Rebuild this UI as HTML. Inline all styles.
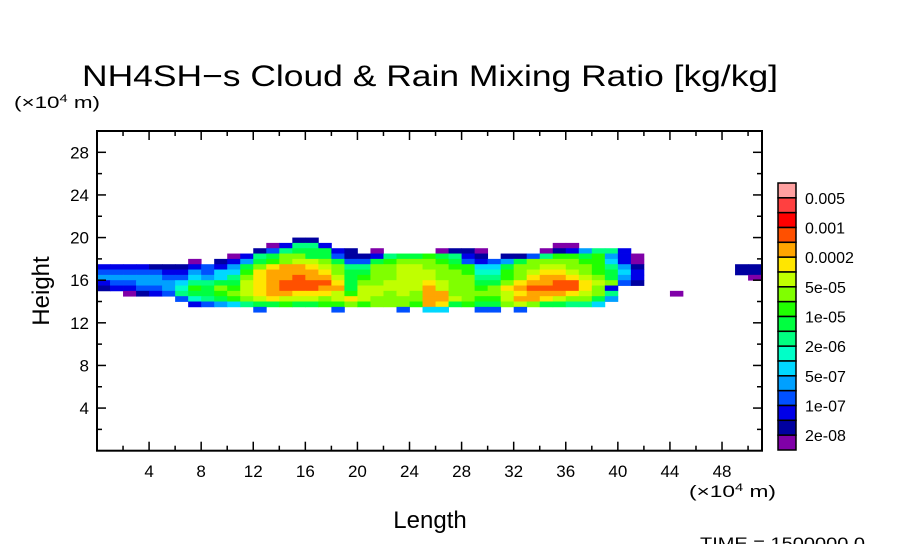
<!DOCTYPE html>
<html><head><meta charset="utf-8">
<style>
html,body{margin:0;padding:0;background:#fff;}
svg{display:block;font-family:"Liberation Sans",sans-serif;}
</style></head>
<body>
<svg id="chart" width="904" height="544" viewBox="0 0 904 544" xmlns="http://www.w3.org/2000/svg">
<text x="430" y="86" font-size="30" text-anchor="middle" textLength="696" lengthAdjust="spacingAndGlyphs">NH4SH−s Cloud &amp; Rain Mixing Ratio [kg/kg]</text>
<text x="14" y="108" font-size="17" textLength="86" lengthAdjust="spacingAndGlyphs">(×10<tspan font-size="11" dy="-6">4</tspan><tspan dy="6"> m)</tspan></text>
<text x="689" y="497" font-size="17" textLength="87" lengthAdjust="spacingAndGlyphs">(×10<tspan font-size="11" dy="-6">4</tspan><tspan dy="6"> m)</tspan></text>
<text x="430" y="528" font-size="24" text-anchor="middle">Length</text>
<text transform="translate(49,291) rotate(-90)" font-size="24" text-anchor="middle">Height</text>
<text x="700" y="549" font-size="17" textLength="165" lengthAdjust="spacingAndGlyphs">TIME  =  1500000.0</text>
<g id="field"></g>
<g id="axes"></g>
<g id="cbar"></g>
</svg>
<script>
const xTicks = [4,8,12,16,20,24,28,32,36,40,44,48];
const yTicks = [4,8,12,16,20,24,28];
const levelColors = ["#8000a8","#0000a0","#0000e8","#0050ff","#00a0ff","#00d8ff","#00ffc8","#00ff80","#00ff40","#20ff00","#80ff00","#c0ff00","#ffe600","#ffa500","#ff5000","#ff0000","#ff4040","#ffa0a0"];
const cbarLabels = ["0.005","0.001","0.0002","5e-05","1e-05","2e-06","5e-07","1e-07","2e-08"];
const rowTop = 20;
const rowStep = 0.5;
const colStep = 1;
const fieldRows = [
"...............22..................................",
".............13883.................11..............",
"............24899932.1....1221....1235883..........",
"..........1389bb994223899a9832.2248aa9a531.........",
".......1.2359abccb9449abbba943459bbbbaa631.........",
"333322234359bdeedcb88bbccbbaa669bbccbba852.......22",
"44444335466adeeeedb99bbcccbba77abcddcba963.......22",
"55555446568bdeefeec9abbcccbbb88abdeedcb953........1",
"34455568899cdeffffd9bbcccdcbb99bdeeffdcb42.........",
"2334457a9bacdefffee9cccccecbbabdeffffdb3..........",
"..1234899abcdeedddcaccbcbeebbbbcdeeedcb8....1......",
"......4789abcdcccbcdcbbbbeecbaaceedcbb95...........",
".......3456899a99aababbbaed9a99bcb99886............",
"............4.....4....4.66..44.4..................."
];
const X0=97,X1=762,Y0=450.7,Y1=131,XMAX=51.07,YMAX=30;
function sx(v){return X0+(X1-X0)*v/XMAX;}
function sy(v){return Y0-(Y0-Y1)*v/YMAX;}
const NS="http://www.w3.org/2000/svg";
function mk(t,a,p){const e=document.createElementNS(NS,t);for(const k in a)e.setAttribute(k,a[k]);p.appendChild(e);return e;}
const field=document.getElementById('field');
fieldRows.forEach((row,ri)=>{
  for(let ci=0;ci<row.length;ci++){
    const ch=row[ci]; if(ch==='.')continue;
    const lv=parseInt(ch,36); if(!(lv>0))continue;
    const x0=ci*colStep, x1=Math.min(XMAX,(ci+1)*colStep);
    const yt=rowTop-ri*rowStep, yb=yt-rowStep;
    const r=mk('rect',{x:sx(x0),y:sy(yt),width:sx(x1)-sx(x0)+0.4,height:sy(yb)-sy(yt)+0.4,fill:levelColors[Math.min(lv,18)-1]},field);
    
    
  }
});
const axes=document.getElementById('axes');
const fr=mk('rect',{x:X0,y:Y1,width:X1-X0,height:Y0-Y1,fill:'none',stroke:'#000','stroke-width':2},axes);


for(let v=2;v<XMAX;v+=2){
  const maj=v%4===0, L=maj?9:5;
  mk('line',{x1:sx(v),x2:sx(v),y1:Y0,y2:Y0-L,stroke:'#000','stroke-width':1.5},axes);
  mk('line',{x1:sx(v),x2:sx(v),y1:Y1,y2:Y1+L,stroke:'#000','stroke-width':1.5},axes);
}
for(let v=2;v<YMAX;v+=2){
  const maj=v%4===0, L=maj?9:5;
  mk('line',{x1:X0,x2:X0+L,y1:sy(v),y2:sy(v),stroke:'#000','stroke-width':1.5},axes);
  mk('line',{x1:X1,x2:X1-L,y1:sy(v),y2:sy(v),stroke:'#000','stroke-width':1.5},axes);
}
xTicks.forEach(v=>{
  const t=mk('text',{x:sx(v),y:477,'font-size':17,'text-anchor':'middle'},axes);t.textContent=v;
  
  
});
yTicks.forEach(v=>{
  const t=mk('text',{x:89,y:sy(v)+6,'font-size':17,'text-anchor':'end'},axes);t.textContent=v;
  
  
});
const cb=document.getElementById('cbar');
const CB0=183,CB1=450,n=levelColors.length,bh=(CB1-CB0)/n;
for(let i=0;i<n;i++){
  const r=mk('rect',{x:778,y:CB0+i*bh,width:18,height:bh,fill:levelColors[n-1-i],stroke:'#000','stroke-width':1.5},cb);
  
  
}
cbarLabels.forEach((s,i)=>{
  const t=mk('text',{x:805,y:CB0+(2*i+1)*bh+6,'font-size':16},cb);t.textContent=s;
  
  
});
</script>
</body></html>
